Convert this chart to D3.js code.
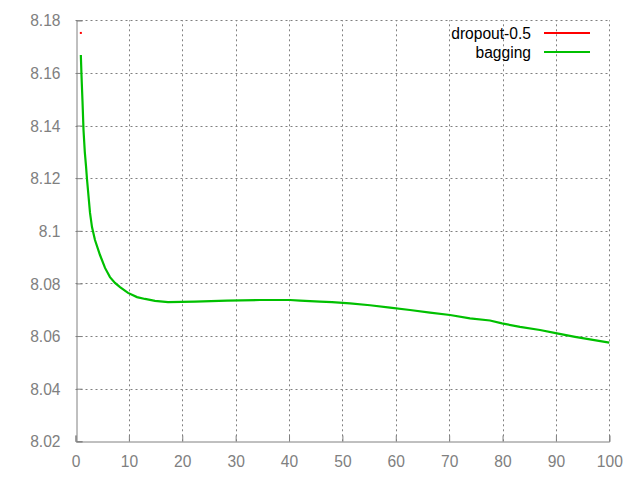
<!DOCTYPE html>
<html><head><meta charset="utf-8">
<script src="https://cdn.jsdelivr.net/npm/d3@7"></script>
<style>body{margin:0;background:#fff}svg{display:block}</style>
</head><body>
<script>
const seriesNames = ["dropout-0.5", "bagging"];
const seriesColors = ["#ff0000", "#00c000"];
const dropoutX = [1];
const dropoutY = [8.1752];
const baggingX = [1.0,1.12,1.31,1.50,1.74,1.97,2.15,2.72,3.09,3.65,4.59,5.53,6.46,7.40,8.34,9.84,11.52,13.02,14.89,17.33,22.39,28.38,34.56,40.18,42.06,45.80,48.05,51.42,55.17,58.92,62.66,66.41,70.16,73.90,77.65,79.90,83.27,87.02,90.20,93.58,100];
const baggingY = [8.1668,8.1592,8.1493,8.1383,8.1300,8.1246,8.1197,8.1068,8.1014,8.0965,8.0908,8.0859,8.0824,8.0802,8.0786,8.0764,8.0748,8.0741,8.0734,8.0729,8.0731,8.0735,8.0737,8.0737,8.0735,8.0731,8.0729,8.0724,8.0717,8.0708,8.0699,8.0689,8.0680,8.0667,8.0659,8.0648,8.0635,8.0623,8.0610,8.0597,8.0575];
const xTicks = [0,10,20,30,40,50,60,70,80,90,100];
const yTicks = [8.02,8.04,8.06,8.08,8.1,8.12,8.14,8.16,8.18];

const W = 640, H = 480;
const m = {l:75.5, r:30.7, t:20.3, b:38.7};
const svg = d3.select("body").append("svg").attr("width", W).attr("height", H);
const x = d3.scaleLinear().domain([0,100]).range([m.l, W - m.r]);
const y = d3.scaleLinear().domain([8.02,8.18]).range([H - m.b, m.t]);
const font = "'Liberation Sans', Arial, sans-serif";
const gray = "#808080";

// grid
const g = svg.append("g");
g.selectAll(".gx").data(xTicks.slice(1)).enter().append("line")
  .attr("x1", d => Math.round(x(d)) + 0.5).attr("x2", d => Math.round(x(d)) + 0.5)
  .attr("y1", y(8.02)).attr("y2", y(8.18))
  .attr("stroke", gray).attr("stroke-dasharray", "2,3").attr("stroke-width", 1);
g.selectAll(".gy").data(yTicks.slice(1)).enter().append("line")
  .attr("y1", d => Math.round(y(d)) + 0.5).attr("y2", d => Math.round(y(d)) + 0.5)
  .attr("x1", x(0)).attr("x2", x(100))
  .attr("stroke", gray).attr("stroke-dasharray", "2,3").attr("stroke-width", 1);

// axes (left & bottom) with inward ticks
const xAxis = d3.axisBottom(x).tickValues(xTicks).tickSize(-6).tickPadding(14).tickFormat(d3.format("d"));
const yAxis = d3.axisLeft(y).tickValues(yTicks).tickSize(-6).tickPadding(16).tickFormat(d => String(+d.toFixed(2)));
const gx = svg.append("g").attr("transform", `translate(0,${Math.round(y(8.02)) + 0.5})`).call(xAxis);
const gy = svg.append("g").attr("transform", `translate(${Math.round(x(0)) + 0.5},0)`).call(yAxis);
[gx, gy].forEach(a => {
  a.select(".domain").attr("stroke", gray).attr("stroke-width", 1);
  a.selectAll(".tick line").attr("stroke", gray);
  a.selectAll(".tick text").attr("fill", gray).attr("font-family", font).attr("font-size", "15.6px");
});
gx.selectAll(".tick text").attr("dy", "0.71em");
gy.selectAll(".tick text").attr("dy", "0.36em");

// series
const line = d3.line().x(d => x(d[0])).y(d => y(d[1]));
const bag = baggingX.map((v,i) => [v, baggingY[i]]);
svg.append("path").datum(bag).attr("d", line)
  .attr("fill", "none").attr("stroke", seriesColors[1]).attr("stroke-width", 2.2);
svg.selectAll(".dp").data(dropoutX.map((v,i) => [v, dropoutY[i]])).enter().append("rect")
  .attr("x", d => x(d[0]) - 1).attr("y", d => y(d[1]) - 1).attr("width", 2).attr("height", 2)
  .attr("fill", seriesColors[0]);

// legend
const leg = svg.append("g");
seriesNames.forEach((n, i) => {
  const yy = 33 + i * 19;
  leg.append("text").attr("x", 531).attr("y", yy).attr("dy", "0.36em")
    .attr("text-anchor", "end").attr("font-family", font).attr("font-size", "15.6px")
    .attr("fill", "#000").text(n);
  leg.append("line").attr("x1", 544).attr("x2", 590).attr("y1", yy).attr("y2", yy)
    .attr("stroke", seriesColors[i]).attr("stroke-width", 2);
});
</script>
</body></html>
